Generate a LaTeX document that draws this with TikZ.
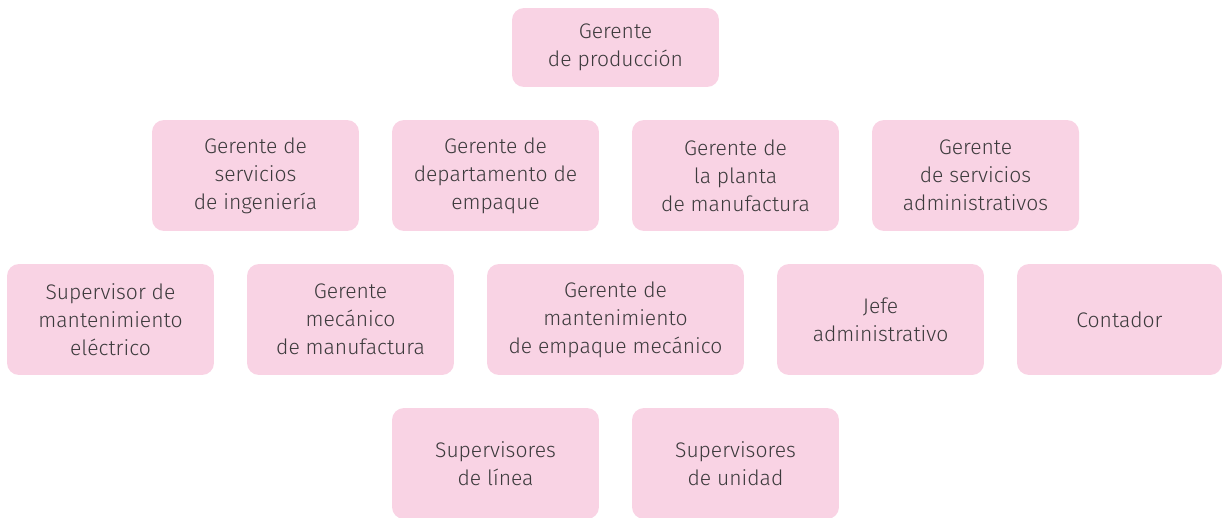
\documentclass[tikz,border=0pt]{standalone}
\usepackage{fontspec}
\setmainfont{Fira Sans}[UprightFont=* Light]
\definecolor{rosa}{HTML}{F9D3E4}
\definecolor{texto}{HTML}{3C3A3C}
\tikzset{
  puesto/.style={fill=rosa, rounded corners=6.8pt, text=texto, align=center,
    inner sep=0pt, minimum width=4.14cm, minimum height=2.22cm,
    font=\fontsize{12}{16}\selectfont}
}
\begin{document}
\begin{tikzpicture}[x=0.02cm, y=-0.02cm]
\useasboundingbox (0,0) rectangle (1222,517);
% nivel 1
\node[puesto, minimum height=1.58cm] (prod) at (615.5,47.5) {Gerente\\de producción};
% nivel 2
\node[puesto] (ing) at (255.5,175.5) {Gerente de\\servicios\\de ingeniería};
\node[puesto] (emp) at (495.5,175.5) {Gerente de\\departamento de\\empaque};
\node[puesto] (planta) at (735.5,175.5) {Gerente de\\la planta\\de manufactura};
\node[puesto] (adm) at (975.5,175.5) {Gerente\\de servicios\\administrativos};
% nivel 3
\node[puesto] (elec) at (110.5,319.5) {Supervisor de\\mantenimiento\\eléctrico};
\node[puesto] (mec) at (350.5,319.5) {Gerente\\mecánico\\de manufactura};
\node[puesto, minimum width=5.14cm] (mant) at (615.5,319.5) {Gerente de\\mantenimiento\\de empaque mecánico};
\node[puesto] (jefe) at (880.5,319.5) {Jefe\\administrativo};
\node[puesto, minimum width=4.10cm] (cont) at (1119.5,319.5) {Contador};
% nivel 4
\node[puesto] (linea) at (495.5,463.5) {Supervisores\\de línea};
\node[puesto] (unidad) at (735.5,463.5) {Supervisores\\de unidad};
\end{tikzpicture}
\end{document}
